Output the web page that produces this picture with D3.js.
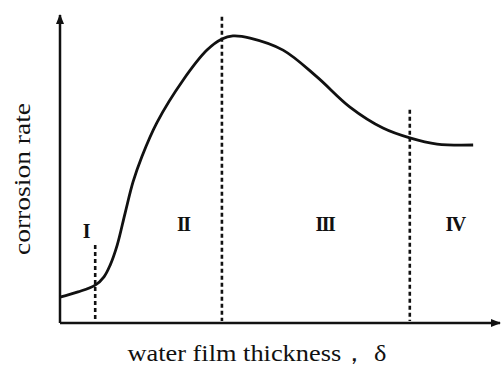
<!DOCTYPE html>
<html>
<head>
<meta charset="utf-8">
<script src="https://cdn.jsdelivr.net/npm/d3@7"></script>
<style>
  html, body { margin: 0; padding: 0; background: #fff; }
  svg text { font-family: "Liberation Serif", "DejaVu Serif", serif; fill: #111; }
</style>
</head>
<body>
<svg id="chart" width="502" height="365"></svg>
<script>
// water film thickness (arbitrary units) vs corrosion rate (arbitrary units)
const thickness = [0, 0.41, 0.80, 1.00, 1.14, 1.30, 1.48, 1.66, 1.86, 2.20, 2.80, 3.34, 3.68, 3.93, 4.32, 5.07, 5.84, 6.59, 7.34, 7.95, 8.57, 9.39];
const rate      = [0.84, 1.01, 1.23, 1.50, 1.88, 2.53, 3.57, 4.58, 5.40, 6.50, 7.89, 8.86, 9.22, 9.32, 9.25, 8.86, 7.99, 7.01, 6.33, 6.01, 5.81, 5.78];

// region boundaries (dashed lines) and their top ends
const boundaryX   = [0.80, 3.68, 7.95];
const boundaryTop = [2.53, 9.94, 6.92];

// region labels
const regionNames = ["I", "II", "III", "IV"];
const regionX     = [0.59, 2.80, 6.02, 8.98];
const regionY     = [2.99, 3.21, 3.21, 3.21];

const xTitle = "water film thickness，  δ";
const yTitle = "corrosion rate";

const margin = {top: 15, right: 2, bottom: 42, left: 60};
const width = 502, height = 365;

const svg = d3.select("#chart");

const x = d3.scaleLinear().domain([0, 10]).range([margin.left, width - margin.right]);
const y = d3.scaleLinear().domain([0, 10]).range([height - margin.bottom, margin.top]);

// arrow heads
const defs = svg.append("defs");
defs.append("marker")
    .attr("id", "arrow")
    .attr("viewBox", "0 0 10 10")
    .attr("refX", 9).attr("refY", 5)
    .attr("markerWidth", 4).attr("markerHeight", 4)
    .attr("orient", "auto")
  .append("path")
    .attr("d", "M0,1 L10,5 L0,9 Z")
    .attr("fill", "#111");

// axes (no ticks, just arrowed lines)
svg.append("line")
    .attr("x1", x(0)).attr("y1", y(0))
    .attr("x2", x(10)).attr("y2", y(0))
    .attr("stroke", "#111").attr("stroke-width", 2.5)
    .attr("marker-end", "url(#arrow)");

svg.append("line")
    .attr("x1", x(0)).attr("y1", y(0))
    .attr("x2", x(0)).attr("y2", y(10))
    .attr("stroke", "#111").attr("stroke-width", 2.5)
    .attr("marker-end", "url(#arrow)");

// dashed boundaries
svg.append("g").selectAll("line")
  .data(boundaryX)
  .join("line")
    .attr("x1", d => x(d)).attr("x2", d => x(d))
    .attr("y1", (d, i) => y(boundaryTop[i]))
    .attr("y2", y(0) - 2)
    .attr("stroke", "#111")
    .attr("stroke-width", 2.6)
    .attr("stroke-dasharray", "4,3");

// curve
const data = thickness.map((t, i) => ({t, r: rate[i]}));
const line = d3.line()
    .x(d => x(d.t))
    .y(d => y(d.r))
    .curve(d3.curveCatmullRom.alpha(0.5));

svg.append("path")
    .datum(data)
    .attr("fill", "none")
    .attr("stroke", "#111")
    .attr("stroke-width", 2.8)
    .attr("d", line);

// region labels
svg.append("g").selectAll("text")
  .data(regionNames)
  .join("text")
    .attr("x", (d, i) => x(regionX[i]))
    .attr("y", (d, i) => y(regionY[i]))
    .attr("text-anchor", "middle")
    .attr("dominant-baseline", "central")
    .attr("font-size", 20)
    .attr("font-weight", "bold")
    .attr("letter-spacing", -1.5)
    .text(d => d);

// axis titles
svg.append("text")
    .attr("x", 257).attr("y", 361)
    .attr("text-anchor", "middle")
    .attr("font-size", 23)
    .attr("textLength", 259)
    .attr("lengthAdjust", "spacingAndGlyphs")
    .text(xTitle);

svg.append("text")
    .attr("transform", "translate(30,179) rotate(-90)")
    .attr("text-anchor", "middle")
    .attr("font-size", 23)
    .attr("textLength", 152)
    .attr("lengthAdjust", "spacingAndGlyphs")
    .text(yTitle);
</script>
</body>
</html>
